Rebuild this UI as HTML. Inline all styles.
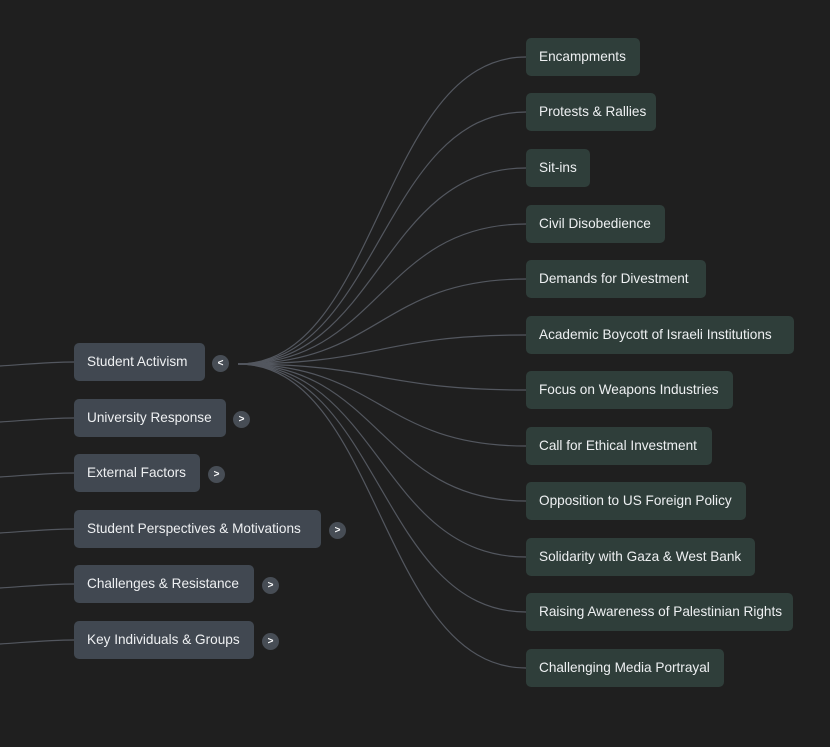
<!DOCTYPE html>
<html><head><style>
body{margin:0;width:830px;height:747px;background:#1f1f1f;position:relative;overflow:hidden;font-family:"Liberation Sans",Arial,sans-serif;}
.n{position:absolute;height:38px;line-height:37px;padding:0 13px;box-sizing:border-box;border-radius:5px;color:#eef0f2;font-size:13.6px;white-space:nowrap;}
.l{background:#414851;left:74px;}
.r{background:#2f3e3a;left:526px;}
.t{position:absolute;width:17px;height:17px;border-radius:50%;background:#474d55;color:#fff;font-size:10px;line-height:17px;text-align:center;font-weight:bold;}
svg{position:absolute;left:0;top:0}
</style></head><body>
<svg width="830" height="747" fill="none" stroke="#53575f" stroke-width="1.2">
<path d="M0 366 C30 364 50 362 74 362"/>
<path d="M0 422 C30 420 50 418 74 418"/>
<path d="M0 477 C30 475 50 473 74 473"/>
<path d="M0 533 C30 531 50 529 74 529"/>
<path d="M0 588 C30 586 50 584 74 584"/>
<path d="M0 644 C30 642 50 640 74 640"/>
<path d="M238 364 C380 364 380 57 526 57"/>
<path d="M238 364 C380 364 380 112 526 112"/>
<path d="M238 364 C380 364 380 168 526 168"/>
<path d="M238 364 C380 364 380 224 526 224"/>
<path d="M238 364 C380 364 380 279 526 279"/>
<path d="M238 364 C380 364 380 335 526 335"/>
<path d="M238 364 C380 364 380 390 526 390"/>
<path d="M238 364 C380 364 380 446 526 446"/>
<path d="M238 364 C380 364 380 501 526 501"/>
<path d="M238 364 C380 364 380 557 526 557"/>
<path d="M238 364 C380 364 380 612 526 612"/>
<path d="M238 364 C380 364 380 668 526 668"/>
</svg>
<div class="n l" style="top:343px;width:131px">Student Activism</div>
<div class="n l" style="top:399px;width:152px">University Response</div>
<div class="n l" style="top:454px;width:126px">External Factors</div>
<div class="n l" style="top:510px;width:247px">Student Perspectives &amp; Motivations</div>
<div class="n l" style="top:565px;width:180px">Challenges &amp; Resistance</div>
<div class="n l" style="top:621px;width:180px">Key Individuals &amp; Groups</div>
<div class="t" style="left:212px;top:355px">&lt;</div>
<div class="t" style="left:233px;top:411px">&gt;</div>
<div class="t" style="left:208px;top:466px">&gt;</div>
<div class="t" style="left:329px;top:522px">&gt;</div>
<div class="t" style="left:262px;top:577px">&gt;</div>
<div class="t" style="left:262px;top:633px">&gt;</div>
<div class="n r" style="top:38px;width:114px">Encampments</div>
<div class="n r" style="top:93px;width:130px">Protests &amp; Rallies</div>
<div class="n r" style="top:149px;width:64px">Sit-ins</div>
<div class="n r" style="top:205px;width:139px">Civil Disobedience</div>
<div class="n r" style="top:260px;width:180px">Demands for Divestment</div>
<div class="n r" style="top:316px;width:268px">Academic Boycott of Israeli Institutions</div>
<div class="n r" style="top:371px;width:207px">Focus on Weapons Industries</div>
<div class="n r" style="top:427px;width:186px">Call for Ethical Investment</div>
<div class="n r" style="top:482px;width:220px">Opposition to US Foreign Policy</div>
<div class="n r" style="top:538px;width:229px">Solidarity with Gaza &amp; West Bank</div>
<div class="n r" style="top:593px;width:267px">Raising Awareness of Palestinian Rights</div>
<div class="n r" style="top:649px;width:198px">Challenging Media Portrayal</div>
</body></html>
